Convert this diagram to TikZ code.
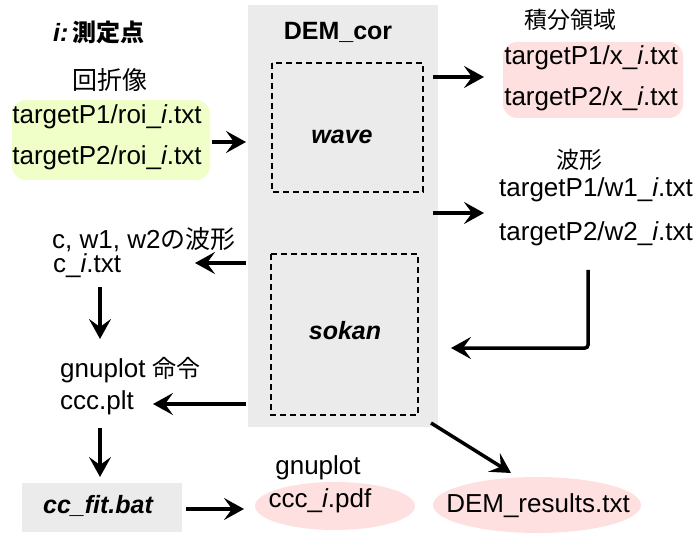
\documentclass[tikz,border=0pt]{standalone}
\usepackage{fontspec}
\setmainfont{Liberation Sans}
\newfontfamily\jpfont{Noto Sans CJK JP}
\usetikzlibrary{arrows.meta}
\definecolor{boxgray}{HTML}{EBEBEB}
\definecolor{lgreen}{HTML}{F0FFC8}
\definecolor{lpink}{HTML}{FFE0E0}
\tikzset{
  txt/.style={inner sep=0pt, font=\fontsize{26}{30}\selectfont},
  btxt/.style={inner sep=0pt, font=\fontsize{25}{30}\selectfont\bfseries\itshape},
  jp/.style={inner sep=0pt, font=\fontsize{23}{28}\selectfont\jpfont},
  arr/.style={line width=3.5pt, -{Stealth[length=20pt,width=22pt,inset=8pt]}},
  dbox/.style={draw, dashed, line width=1.6pt, dash pattern=on 6pt off 4pt},
}
\begin{document}
\begin{tikzpicture}[x=1pt,y=-1pt]
\useasboundingbox (0,0) rectangle (695,534);
% main gray box
\fill[boxgray] (248,5) rectangle (438,427);
\node[inner sep=0pt, font=\fontsize{25}{30}\selectfont\bfseries] (dem) at (338,32) {DEM\_cor};
\draw[dbox] (272,63) rectangle (423,192);
\node[btxt] (wave) at (342,137) {wave};
\draw[dbox] (271,254) rectangle (418,415);
\node[btxt] (sokan) at (345,331) {sokan};
% legend
\node[inner sep=0pt, anchor=west] (leg) at (53,32) {\fontsize{25}{30}\selectfont\bfseries\itshape i:\,\upshape\jpfont\bfseries\fontsize{24}{28}\selectfont 測定点};
% roi
\node[jp, font=\fontsize{25}{28}\selectfont\jpfont] (kaisetsu) at (110,80) {回折像};
\fill[lgreen, rounded corners=14pt] (12,100) rectangle (210,180);
\node[txt] (roi1) at (107,117) {targetP1/roi\_\textit{i}.txt};
\node[txt] (roi2) at (107,158) {targetP2/roi\_\textit{i}.txt};
\coordinate (roiR) at (212,142);
\coordinate (demL1) at (246,142);
\draw[arr] (roiR) -- (demL1);
% x
\node[jp] (sekibun) at (570,20) {積分領域};
\fill[lpink, rounded corners=14pt] (503,42) rectangle (683,118);
\node[txt] (x1) at (591,58) {targetP1/x\_\textit{i}.txt};
\node[txt] (x2) at (591,99) {targetP2/x\_\textit{i}.txt};
\coordinate (w1s) at (433,77);
\coordinate (w1e) at (484,77);
\draw[arr] (w1s) -- (w1e);
% w
\node[jp] (hakei) at (579,160) {波形};
\node[txt] (wt1) at (596,190) {targetP1/w1\_\textit{i}.txt};
\node[txt] (wt2) at (596,234) {targetP2/w2\_\textit{i}.txt};
\coordinate (w2s) at (433,213);
\coordinate (w2e) at (484,213);
\draw[arr] (w2s) -- (w2e);
% elbow
\coordinate (e1) at (588,270);
\coordinate (e2) at (588,348);
\coordinate (e3) at (451,348);
\draw[arr, rounded corners=3pt] (e1) -- (e2) -- (e3);
% c
\node[inner sep=0pt, anchor=west] (cw) at (52,240) {\fontsize{26}{30}\selectfont c, w1, w2{\jpfont\fontsize{25}{28}\selectfont の波形}};
\node[txt, anchor=west] (ci) at (53,266) {c\_\textit{i}.txt};
\coordinate (c1) at (246,263);
\coordinate (c2) at (195,263);
\draw[arr] (c1) -- (c2);
\coordinate (d1s) at (100,287);
\coordinate (d1e) at (100,339);
\draw[arr] (d1s) -- (d1e);
% gnuplot
\node[inner sep=0pt, anchor=west] (gp) at (60,370) {\fontsize{26}{30}\selectfont gnuplot {\jpfont\fontsize{24}{28}\selectfont 命令}};
\node[txt, anchor=west] (ccc) at (60,403) {ccc.plt};
\coordinate (p1) at (246,404);
\coordinate (p2) at (153,404);
\draw[arr] (p1) -- (p2);
\coordinate (d2s) at (100,428);
\coordinate (d2e) at (100,477);
\draw[arr] (d2s) -- (d2e);
% cc_fit
\fill[boxgray] (22,483) rectangle (182,532);
\node[btxt] (ccfit) at (98,506) {cc\_fit.bat};
\coordinate (f1) at (186,509);
\coordinate (f2) at (244,509);
\draw[arr] (f1) -- (f2);
% pdf
\node[txt] (gp2) at (318,468) {gnuplot};
\fill[lpink] (335,506) ellipse (80pt and 24pt);
\node[txt] (pdf) at (320,501) {ccc\_\textit{i}.pdf};
% DEM results
\fill[lpink] (537,505) ellipse (104pt and 28pt);
\node[txt] (res) at (538,506) {DEM\_results.txt};
\coordinate (r1) at (431,423);
\coordinate (r2) at (511,473);
\draw[arr] (r1) -- (r2);
\end{tikzpicture}
\end{document}
